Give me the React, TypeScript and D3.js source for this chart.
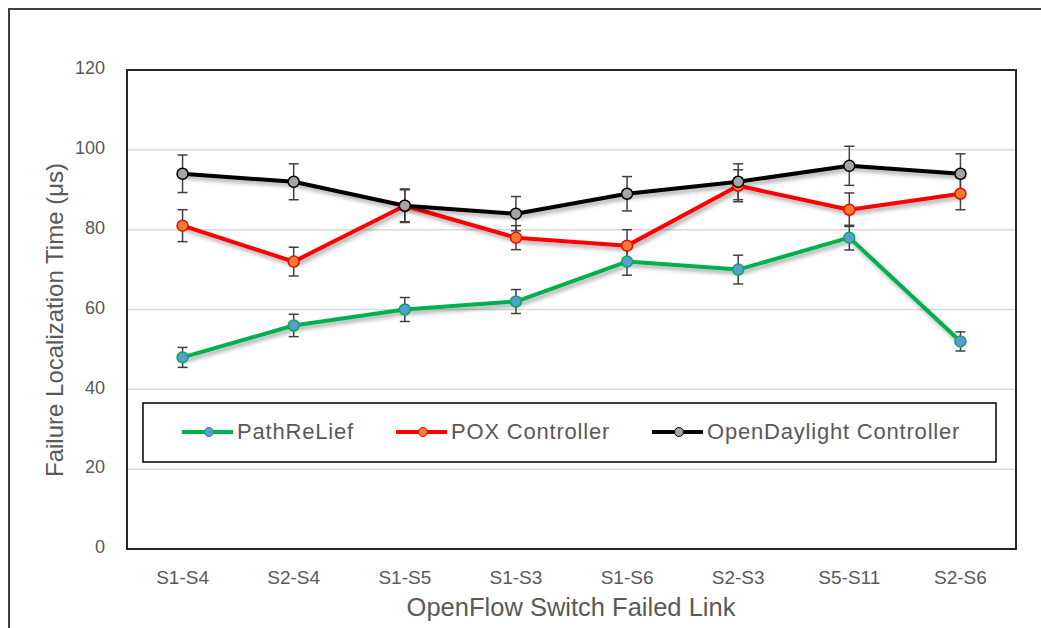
import React from "react";
import * as d3 from "d3";

const categories = ["S1-S4", "S2-S4", "S1-S5", "S1-S3", "S1-S6", "S2-S3", "S5-S11", "S2-S6"];
const pathRelief = [48, 56, 60, 62, 72, 70, 78, 52];
const pathReliefErr = [2.5, 2.8, 3, 3, 3.4, 3.6, 3.1, 2.4];
const pox = [81, 72, 86, 78, 76, 91, 85, 89];
const poxErr = [4, 3.6, 4, 3, 4, 4, 4.2, 4];
const openDaylight = [94, 92, 86, 84, 89, 92, 96, 94];
const openDaylightErr = [4.7, 4.5, 4.2, 4.3, 4.3, 4.5, 4.9, 5];
const yTicks = [0, 20, 40, 60, 80, 100, 120];

const series = [
  { name: "PathReLief", values: pathRelief, err: pathReliefErr, line: "#00B050", fill: "#5B9BD5" },
  { name: "POX Controller", values: pox, err: poxErr, line: "#FF0000", fill: "#ED7D31" },
  { name: "OpenDaylight Controller", values: openDaylight, err: openDaylightErr, line: "#000000", fill: "#A5A5A5" },
];

const W = 1041, H = 628;
const L = 127, R = 1016, T = 70, B = 549;
const font = "'Liberation Sans', Arial, sans-serif";

export default function App() {
  const x = d3.scaleBand().domain(categories).range([L, R]);
  const y = d3.scaleLinear().domain([0, 120]).range([B, T]);
  const cx = (c: string) => (x(c) as number) + x.bandwidth() / 2;
  const line = d3.line<number>().x((_, i) => cx(categories[i])).y((v) => y(v));

  const legendItems = [
    { s: series[0], x0: 182 },
    { s: series[1], x0: 396 },
    { s: series[2], x0: 652 },
  ];

  return (
    <svg width={W} height={H} style={{ position: "absolute", left: 0, top: 0, background: "#fff" }}>
      <defs>
        <filter id="sh" x="-10%" y="-10%" width="120%" height="130%">
          <feDropShadow dx="2" dy="3" stdDeviation="2" floodColor="#000" floodOpacity="0.35" />
        </filter>
      </defs>
      <rect x={9} y={9} width={W} height={H} fill="#fff" stroke="#404040" strokeWidth={2} />
      {yTicks.filter((t) => t > 0 && t < 120).map((t) => (
        <line key={t} x1={L} x2={R} y1={y(t)} y2={y(t)} stroke="#d9d9d9" strokeWidth={1.5} />
      ))}
      <rect x={L} y={T} width={R - L} height={B - T} fill="none" stroke="#262626" strokeWidth={2} />
      {yTicks.map((t) => (
        <text key={t} x={105} y={y(t) - 2} dy="0.35em" textAnchor="end" fontFamily={font} fontSize={18} fill="#595959">
          {t}
        </text>
      ))}
      {categories.map((c) => (
        <text key={c} x={cx(c)} y={584} textAnchor="middle" fontFamily={font} fontSize={19} fill="#595959">
          {c}
        </text>
      ))}
      <text x={571} y={616} textAnchor="middle" fontFamily={font} fontSize={25.5} fill="#595959">
        OpenFlow Switch Failed Link
      </text>
      <text transform={`translate(63,320) rotate(-90)`} textAnchor="middle" fontFamily={font} fontSize={24} fill="#595959">
        Failure Localization Time (μs)
      </text>
      {series.map((s) => (
        <g key={s.name} filter="url(#sh)">
          <path d={line(s.values) || ""} fill="none" stroke={s.line} strokeWidth={4} strokeLinejoin="round" />
        </g>
      ))}
      {series.map((s) => (
        <g key={s.name + "e"}>
          {s.values.map((v, i) => {
            const px = cx(categories[i]);
            return (
              <g key={i} stroke="#404040" strokeWidth={1.5}>
                <line x1={px} x2={px} y1={y(v + s.err[i])} y2={y(v - s.err[i])} />
                <line x1={px - 5} x2={px + 5} y1={y(v + s.err[i])} y2={y(v + s.err[i])} />
                <line x1={px - 5} x2={px + 5} y1={y(v - s.err[i])} y2={y(v - s.err[i])} />
              </g>
            );
          })}
        </g>
      ))}
      {series.map((s) => (
        <g key={s.name + "m"}>
          {s.values.map((v, i) => (
            <circle key={i} cx={cx(categories[i])} cy={y(v)} r={5.5} fill={s.fill} stroke={s.line} strokeWidth={1.5} />
          ))}
        </g>
      ))}
      <rect x={143} y={403} width={853} height={59} fill="#fff" stroke="#000" strokeWidth={1.5} />
      {legendItems.map(({ s, x0 }) => (
        <g key={s.name}>
          <line x1={x0} x2={x0 + 51} y1={432} y2={432} stroke={s.line} strokeWidth={4} />
          <circle cx={x0 + 27} cy={432} r={4.5} fill={s.fill} stroke={s.line} strokeWidth={1} />
          <text x={x0 + 55} y={439} fontFamily={font} fontSize={22} letterSpacing={0.8} fill="#595959">
            {s.name}
          </text>
        </g>
      ))}
    </svg>
  );
}
